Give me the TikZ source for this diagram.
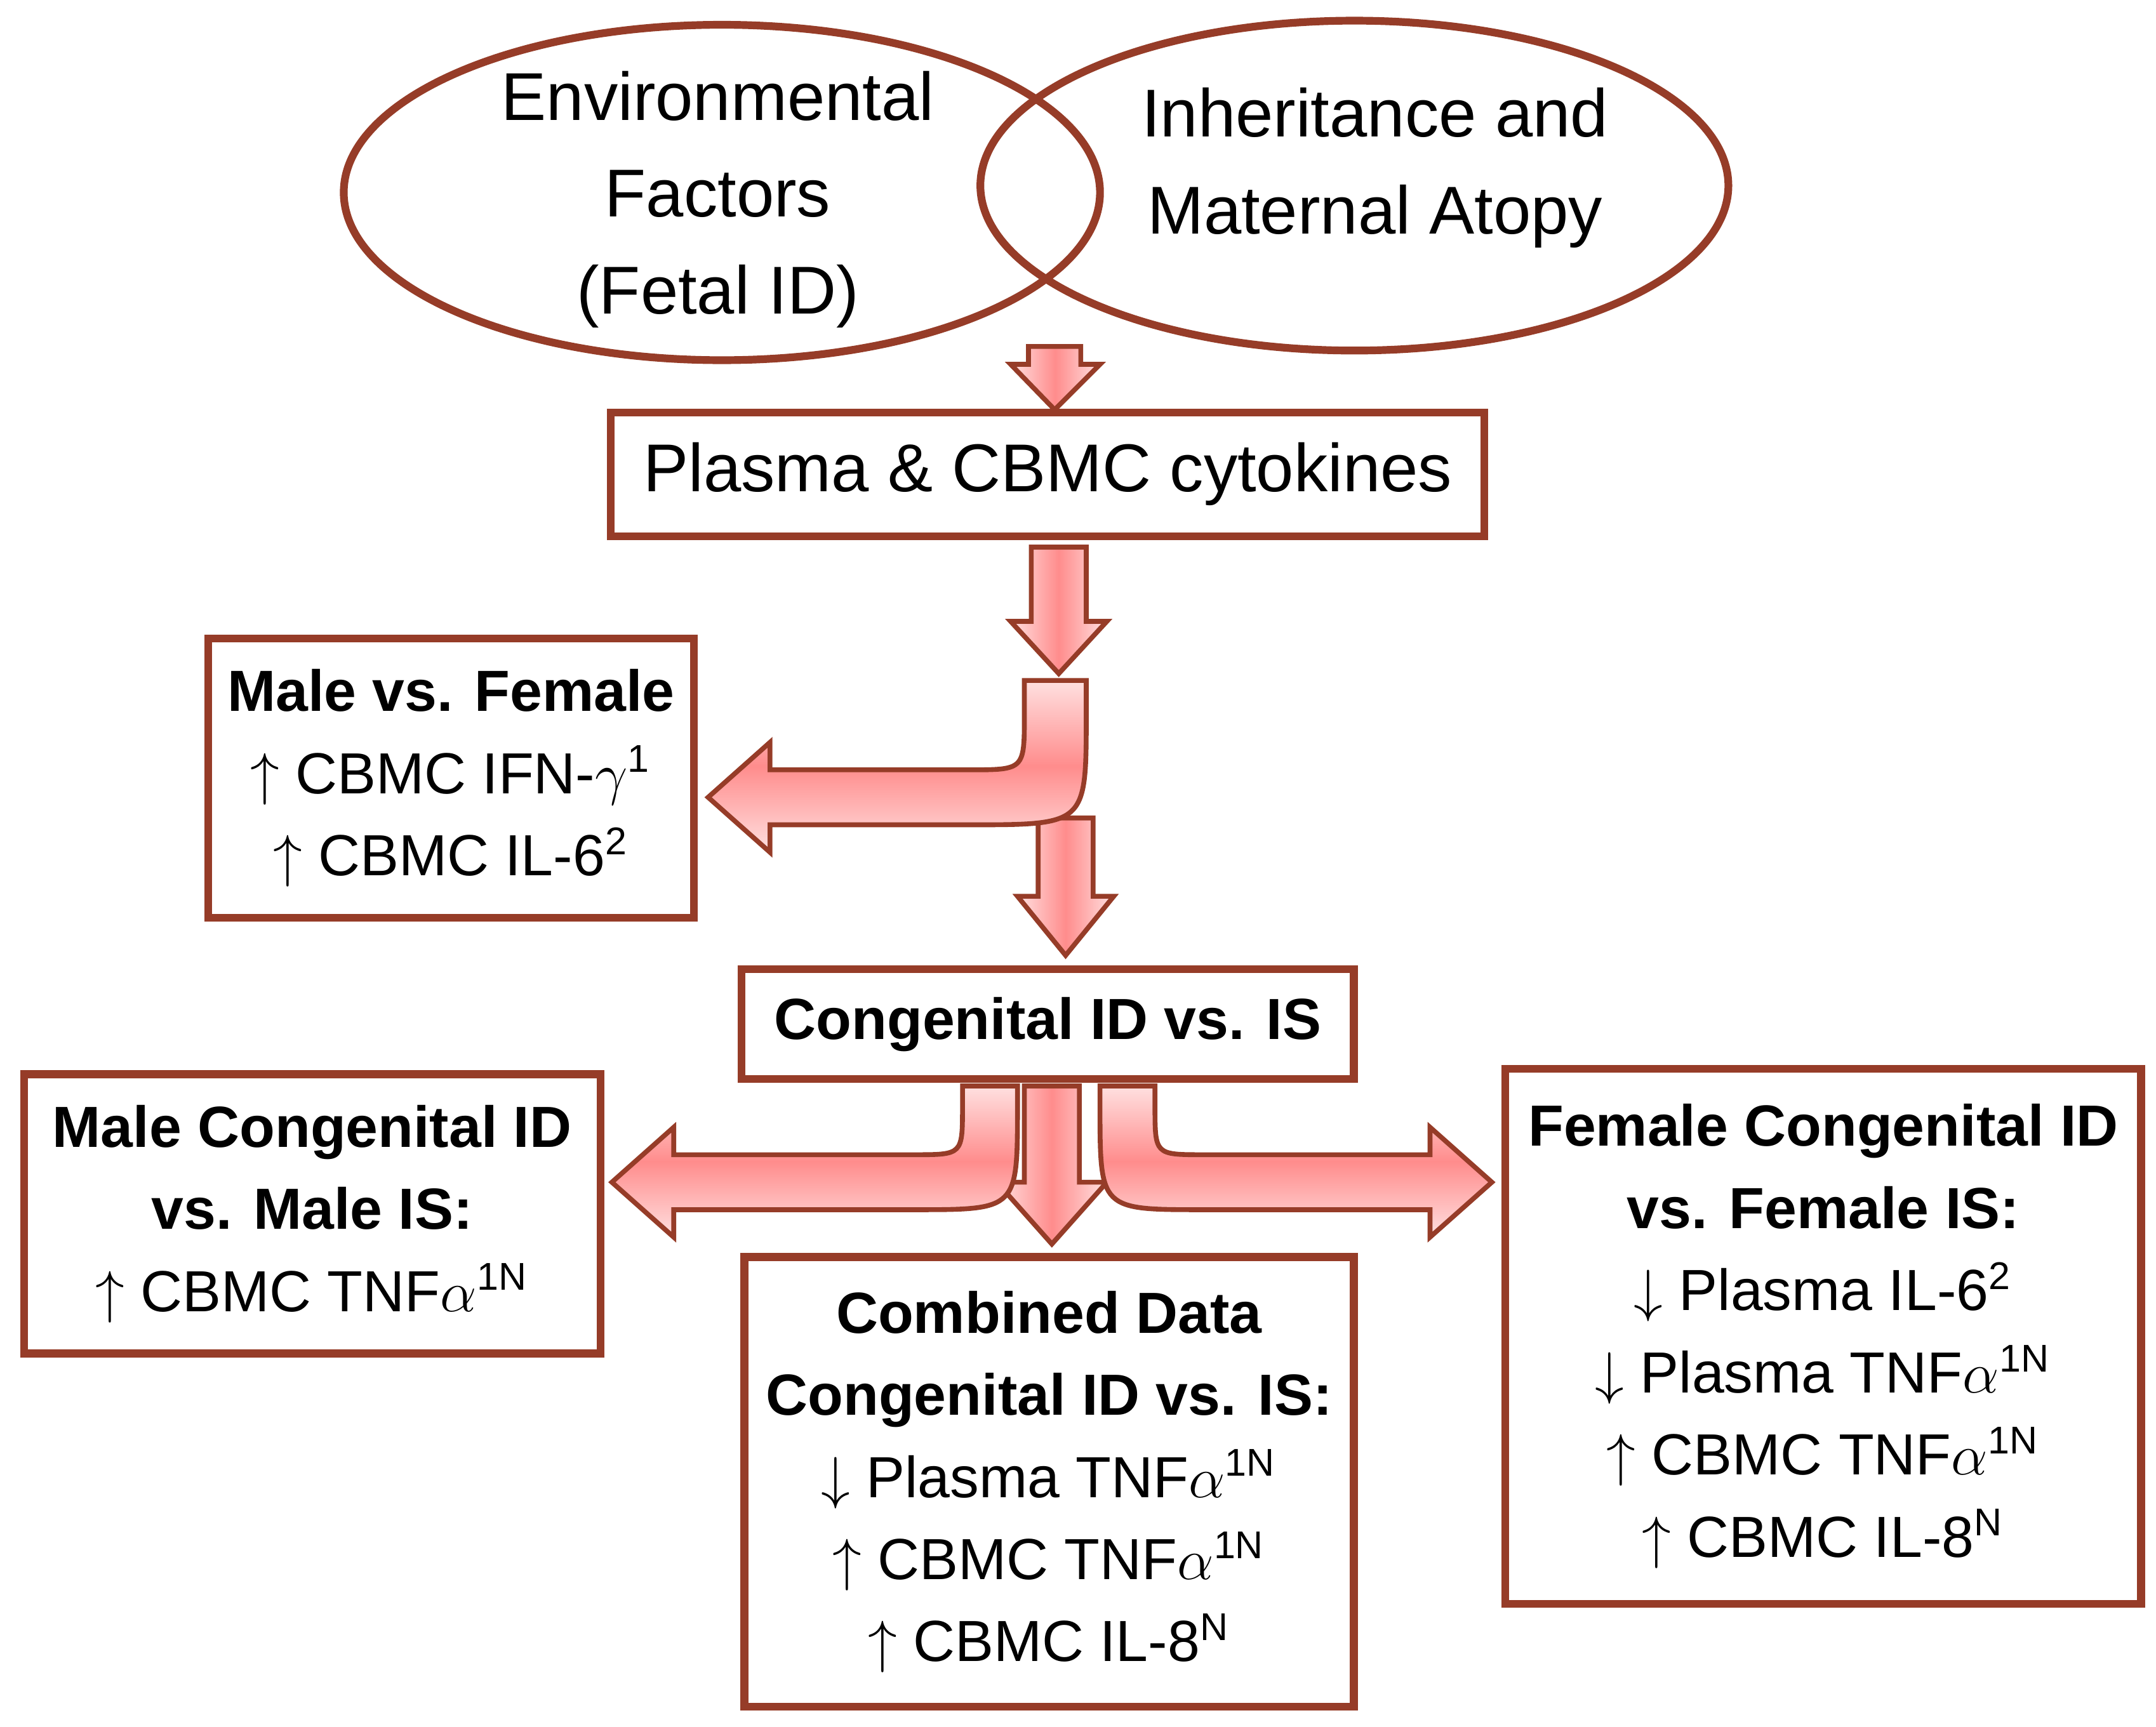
\documentclass[tikz,border=0pt]{standalone}
\usepackage{fontspec}
\setmainfont{Liberation Sans}
\begin{document}
\begin{tikzpicture}[x=0.01cm,y=-0.01cm,
  brn/.style={draw={rgb,255:red,150;green,60;blue,40}, line width=1.6pt},
  box/.style={brn, fill=white, align=center, inner sep=0pt, font=\fontsize{12}{17}\selectfont},
  fat/.style={draw={rgb,255:red,150;green,60;blue,40}, line width=1pt, left color=red!12, right color=red!12, middle color=red!45},
  fatv/.style={draw={rgb,255:red,150;green,60;blue,40}, line width=1pt, top color=red!12, bottom color=red!12, middle color=red!45}]
\useasboundingbox (0,0) rectangle (1568,1256);
% ellipses
\draw[brn] (525,140) ellipse [x radius=275, y radius=122];
\draw[brn] (985,135) ellipse [x radius=272, y radius=120];
\node[align=center, font=\fontsize{14}{20}\selectfont] (env) at (522,145) {Environmental\\Factors\\(Fetal ID)};
\node[align=center, font=\fontsize{14}{20}\selectfont] (inh) at (1000,122) {Inheritance and\\Maternal Atopy};
% boxes
\node[box, minimum width=6.35cm, minimum height=0.9cm, font=\fontsize{14}{17}\selectfont] (plasma) at (762,345) {Plasma \& CBMC cytokines};
\node[box, minimum width=3.53cm, minimum height=2.03cm] (mf) at (328,566) {\textbf{Male vs. Female}\\$\uparrow$ CBMC IFN-$\gamma$\textsuperscript{1}\\$\uparrow$ CBMC IL-6\textsuperscript{2}};
\node[box, minimum width=4.45cm, minimum height=0.8cm] (cong) at (762,745) {\textbf{Congenital ID vs. IS}};
\node[box, minimum width=4.19cm, minimum height=2.03cm] (male) at (227,883) {\textbf{Male Congenital ID}\\\textbf{vs. Male IS:}\\$\uparrow$ CBMC TNF$\alpha$\textsuperscript{1N}};
\node[box, minimum width=4.43cm, minimum height=3.27cm] (comb) at (763,1078) {\textbf{Combined Data}\\\textbf{Congenital ID vs. IS:}\\$\downarrow$ Plasma TNF$\alpha$\textsuperscript{1N}\\$\uparrow$ CBMC TNF$\alpha$\textsuperscript{1N}\\$\uparrow$ CBMC IL-8\textsuperscript{N}};
\node[box, minimum width=4.62cm, minimum height=3.89cm] (fem) at (1326,972) {\textbf{Female Congenital ID}\\\textbf{vs. Female IS:}\\$\downarrow$ Plasma IL-6\textsuperscript{2}\\$\downarrow$ Plasma TNF$\alpha$\textsuperscript{1N}\\$\uparrow$ CBMC TNF$\alpha$\textsuperscript{1N}\\$\uparrow$ CBMC IL-8\textsuperscript{N}};
% straight arrows
\path[fat] (748,252) -- (748,265) -- (735,265) -- (767,298) -- (800,265) -- (786,265) -- (786,252) -- cycle;
\path[fat] (750,398) -- (750,452) -- (735,452) -- (770,490) -- (805,452) -- (790,452) -- (790,398) -- cycle;
\path[fat] (755,595) -- (755,652) -- (740,652) -- (775,695) -- (810,652) -- (795,652) -- (795,595) -- cycle;
\path[fat] (745,790) -- (745,860) -- (725,860) -- (765,905) -- (805,860) -- (785,860) -- (785,790) -- cycle;
% curved arrows
\path[fatv] (745,495) -- (745,520) .. controls (745,560) .. (705,560) -- (560,560) -- (560,540) -- (515,580) -- (560,620) -- (560,600) -- (705,600) .. controls (790,600) .. (790,520) -- (790,495) -- cycle;
\path[fatv] (700,790) -- (700,805) .. controls (700,840) .. (665,840) -- (490,840) -- (490,820) -- (445,860) -- (490,900) -- (490,880) -- (665,880) .. controls (740,880) .. (740,805) -- (740,790) -- cycle;
\path[fatv] (840,790) -- (840,805) .. controls (840,840) .. (875,840) -- (1040,840) -- (1040,820) -- (1085,860) -- (1040,900) -- (1040,880) -- (875,880) .. controls (800,880) .. (800,805) -- (800,790) -- cycle;
\end{tikzpicture}
\end{document}
